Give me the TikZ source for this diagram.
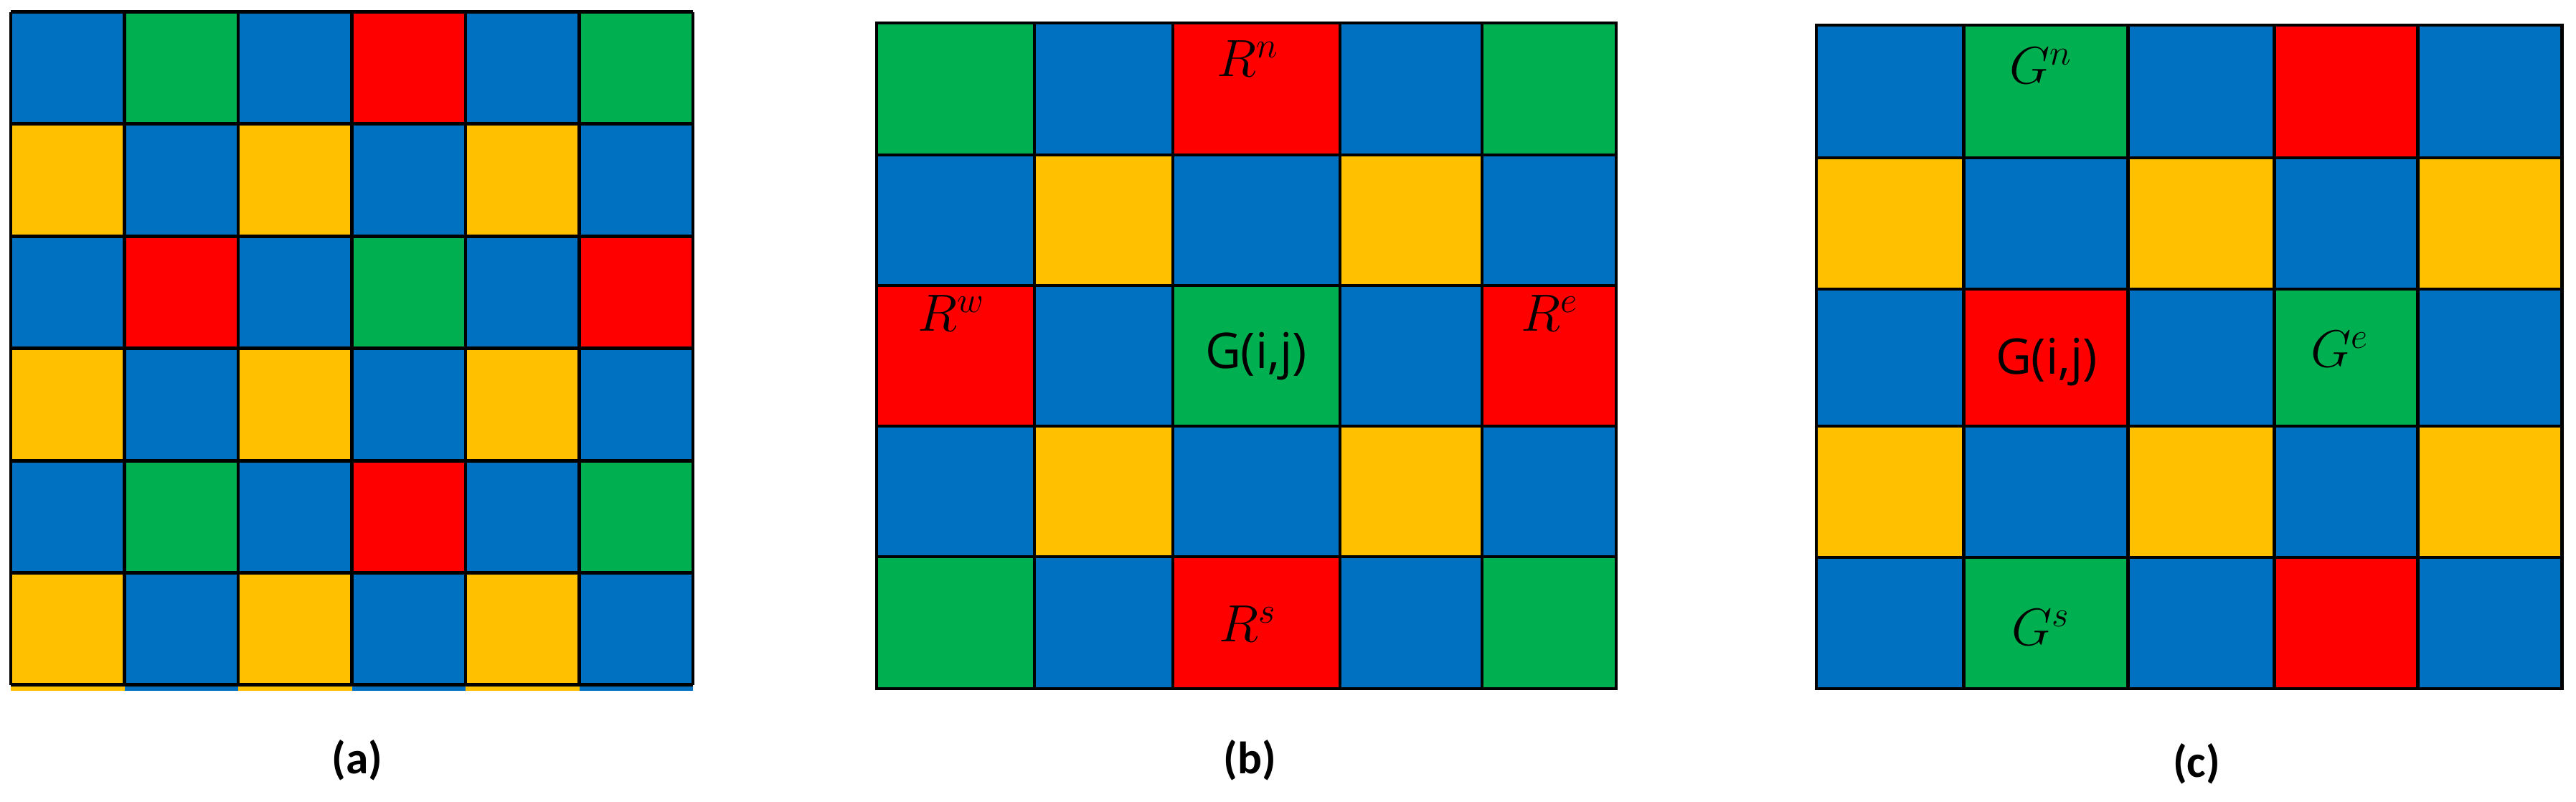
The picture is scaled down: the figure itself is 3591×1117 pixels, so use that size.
\documentclass[tikz,border=0pt]{standalone}
\usepackage{fontspec}
\newfontfamily\capfont{Carlito}
\newfontfamily\cellfont{Open Sans}

\definecolor{colB}{HTML}{0070C0}
\definecolor{colG}{HTML}{00B050}
\definecolor{colR}{HTML}{FF0000}
\definecolor{colY}{HTML}{FFC000}

\tikzset{
  cell/.style={draw=black,line width=1.4pt},
  caption/.style={font=\capfont\bfseries\fontsize{18}{18}\selectfont},
  sample/.style={font=\fontsize{22}{22}\selectfont},
  center/.style={font=\cellfont\fontsize{19.5}{19.5}\selectfont}
}

\begin{document}
\begin{tikzpicture}[x=0.01cm,y=-0.01cm,line join=miter]
  \useasboundingbox (0,0) rectangle (3591,1117);

  % (a) full mosaic, 6x6 cells
  \def\w{158.5}
  \def\h{156.4}
  \foreach \r/\cl in {0/{B,G,B,R,B,G},1/{Y,B,Y,B,Y,B},2/{B,R,B,G,B,R},
                      3/{Y,B,Y,B,Y,B},4/{B,G,B,R,B,G},5/{Y,B,Y,B,Y,B}} {
    \foreach \k [count=\i from 0] in \cl {
      \fill[col\k] ({15+\i*\w},{16.5+\r*\h}) rectangle ({15+(\i+1)*\w},{16.5+(\r+1)*\h+(\r==5)*8});
    }
  }
  \foreach \i in {0,...,6} {
    \draw[cell] ({15+\i*\w},16.5) -- ({15+\i*\w},{16.5+6*\h});
    \draw[cell] (15,{16.5+\i*\h}) -- ({15+6*\w},{16.5+\i*\h});
  }

  % (b) red samples around a green pixel
  \def\bx{{1222,1442,1635,1868,2066,2253}}
  \foreach \ya/\yb/\cl in {32/216/{G,B,R,B,G},216/398/{B,Y,B,Y,B},398/594/{R,B,G,B,R},
                           594/776/{B,Y,B,Y,B},776/960/{G,B,R,B,G}} {
    \foreach \k [count=\i from 0] in \cl {
      \pgfmathsetmacro\xa{\bx[\i]}
      \pgfmathsetmacro\xb{\bx[\i+1]}
      \filldraw[cell,fill=col\k] (\xa,\ya) rectangle (\xb,\yb);
    }
  }
  \node[sample] (rn) at (1740,82) {$R^n$};
  \node[sample] (rw) at (1326,437) {$R^w$};
  \node[sample] (re) at (2160,437) {$R^e$};
  \node[sample] (rs) at (1740,870) {$R^s$};
  \node[center] (gb) at (1751,497) {G(i,j)};

  % (c) green samples around a red pixel
  \def\cx{{2532,2737,2966,3170,3370,3571}}
  \foreach \ya/\yb/\cl in {35/220/{B,G,B,R,B},220/403/{Y,B,Y,B,Y},403/594/{B,R,B,G,B},
                           594/777/{Y,B,Y,B,Y},777/960/{B,G,B,R,B}} {
    \foreach \k [count=\i from 0] in \cl {
      \pgfmathsetmacro\xa{\cx[\i]}
      \pgfmathsetmacro\xb{\cx[\i+1]}
      \filldraw[cell,fill=col\k] (\xa,\ya) rectangle (\xb,\yb);
    }
  }
  \node[sample] (gn) at (2845,92) {$G^n$};
  \node[sample] (ge) at (3262,487) {$G^e$};
  \node[sample] (gs) at (2845,875) {$G^s$};
  \node[center] (gc) at (2853,505) {G(i,j)};

  % Captions
  \node[caption] (capa) at (498,1060) {(a)};
  \node[caption] (capb) at (1742,1060) {(b)};
  \node[caption] (capc) at (3062,1065) {(c)};
\end{tikzpicture}
\end{document}
